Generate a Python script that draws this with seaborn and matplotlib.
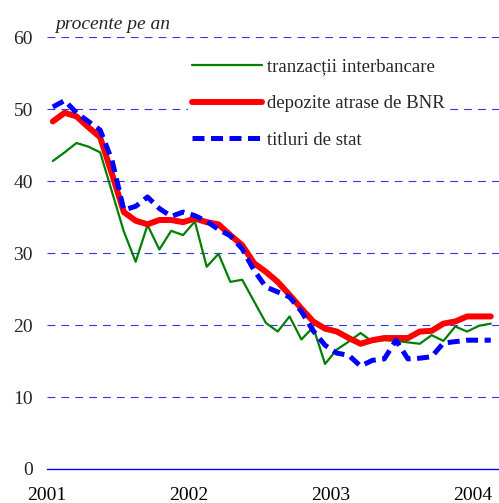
import matplotlib
matplotlib.use("Agg")
import matplotlib.pyplot as plt
import seaborn as sns
import pandas as pd
import numpy as np

# monthly series, Jan 2001 - Feb 2004 (% per year)
months = np.arange(38)
interbancare = [42.8, 44.0, 45.3, 44.8, 44.0, 38.5, 33.0, 28.8, 33.9, 30.5, 33.1, 32.5,
                34.4, 28.1, 29.9, 26.0, 26.3, 23.3, 20.3, 19.1, 21.2, 18.0, 19.7, 14.6,
                16.6, 17.7, 18.9, 17.7, 17.9, 17.8, 17.6, 17.4, 18.6, 17.8, 19.8, 19.1,
                19.9, 20.2]
depozite_bnr = [48.3, 49.5, 49.0, 47.5, 46.1, 41.0, 35.7, 34.5, 34.0, 34.6, 34.6, 34.3,
                34.8, 34.3, 34.0, 32.5, 31.1, 28.6, 27.4, 26.0, 24.2, 22.3, 20.5, 19.5,
                19.1, 18.2, 17.4, 17.9, 18.2, 18.2, 18.2, 19.1, 19.2, 20.2, 20.5, 21.2,
                21.2, 21.2]
titluri_stat = [50.3, 51.2, 49.5, 48.3, 47.1, 42.9, 36.0, 36.5, 37.8, 36.2, 35.1, 35.7,
                35.2, 34.4, 33.3, 32.4, 30.6, 27.6, 25.3, 24.6, 23.9, 21.9, 19.2, 17.2,
                16.1, 15.8, 14.3, 15.1, 15.3, 17.9, 15.3, 15.4, 15.6, 17.5, 17.7, 17.9,
                17.9, 17.9]
year_ticks = [2001, 2002, 2003, 2004]

df = pd.DataFrame({
    "t": 2001 + (months + 0.5) / 12,
    "interbancare": interbancare,
    "depozite": depozite_bnr,
    "titluri": titluri_stat,
})

sns.set_style("white")
plt.rcParams["font.family"] = ["Liberation Serif", "DejaVu Serif"]

fig = plt.figure(figsize=(4.99, 5.03), dpi=100)
ax = fig.add_axes([0.094, 0.0676, 0.906, 0.8584])

sns.lineplot(data=df, x="t", y="interbancare", ax=ax, color="#008000", lw=1.6,
             label="tranzacții interbancare")
sns.lineplot(data=df, x="t", y="depozite", ax=ax, color="#ff0000", lw=4.3,
             label="depozite atrase de BNR")
sns.lineplot(data=df, x="t", y="titluri", ax=ax, color="#0000ff", lw=3.6,
             label="titluri de stat")
ax.lines[-1].set_dashes([2.4, 1.3])

ax.set_xlim(2001, 2004.183)
ax.set_ylim(0, 60)
ax.set_yticks(range(0, 61, 10))
ax.set_xticks(year_ticks)
ax.set_xticklabels([str(y) for y in year_ticks])
ax.set_xlabel("")
ax.set_ylabel("")
for y in range(10, 61, 10):
    ax.axhline(y, color="#3333ff", lw=0.8, dashes=(7, 5.5), zorder=0)

for s in ["top", "right", "left"]:
    ax.spines[s].set_visible(False)
ax.spines["bottom"].set_color("#0000ff")
ax.spines["bottom"].set_linewidth(1.0)
ax.tick_params(axis="x", colors="#0000ff", direction="out", length=5, width=1,
               labelcolor="black", labelsize=14, pad=8)
ax.tick_params(axis="y", length=0, labelsize=14, pad=10)

ax.text(0.018, 1.01, "procente pe an", transform=ax.transAxes, style="italic",
        fontsize=14, ha="left", va="bottom")

leg = ax.legend(loc="upper left", bbox_to_anchor=(0.312, 0.96), frameon=True,
                fontsize=13.5, handlelength=3.73, handletextpad=0.27, labelspacing=1.05,
                borderpad=0.2, borderaxespad=0, fancybox=False)
leg.get_frame().set_facecolor("white")
leg.get_frame().set_edgecolor("none")
leg.get_frame().set_alpha(1)

fig.savefig("out.png", dpi=100)
